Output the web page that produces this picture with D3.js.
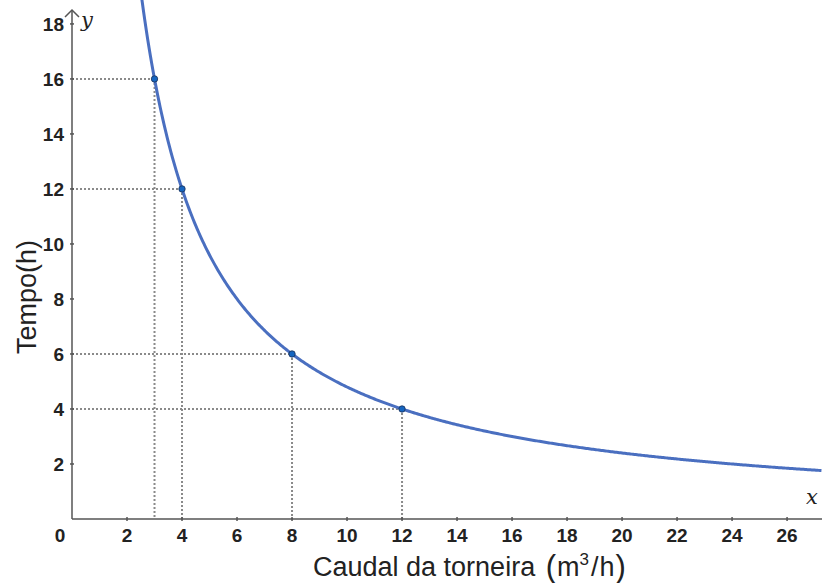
<!DOCTYPE html>
<html lang="pt">
<head>
  <meta charset="utf-8">
  <title>Tempo vs Caudal</title>
  <script src="https://d3js.org/d3.v7.min.js"></script>
  <style>
    body { margin: 0; background: #fff; }
    svg { display: block; }
    .tick-label { font-family: "Liberation Sans", Arial, sans-serif; font-weight: bold; font-size: 19px; fill: #222; }
    .title { font-family: "Liberation Sans", Arial, sans-serif; font-size: 27px; fill: #222; }
    .var { font-family: "DejaVu Serif", "Liberation Serif", serif; font-style: italic; font-size: 21px; fill: #222; }
  </style>
</head>
<body>
<svg id="chart" width="822" height="583"></svg>
<script>
  // data
  var xTicks = [2, 4, 6, 8, 10, 12, 14, 16, 18, 20, 22, 24, 26];
  var yTicks = [2, 4, 6, 8, 10, 12, 14, 16, 18];
  var pointsX = [3, 4, 8, 12];
  var pointsY = [16, 12, 6, 4];
  var k = 48; // tempo = 48 / caudal

  var svg = d3.select("#chart");
  var x = d3.scaleLinear().domain([0, 27.27]).range([72, 822]);
  var y = d3.scaleLinear().domain([0, 18.87]).range([519, 0]);

  // dotted guide lines
  var pts = pointsX.map(function (d, i) { return { x: d, y: pointsY[i] }; });
  var guides = svg.append("g")
    .attr("stroke", "#8a8a8a")
    .attr("stroke-width", 2)
    .attr("stroke-dasharray", "2,2");
  guides.selectAll(".h").data(pts).enter().append("line")
    .attr("x1", x(0)).attr("x2", function (d) { return x(d.x); })
    .attr("y1", function (d) { return y(d.y); }).attr("y2", function (d) { return y(d.y); });
  guides.selectAll(".v").data(pts).enter().append("line")
    .attr("x1", function (d) { return x(d.x); }).attr("x2", function (d) { return x(d.x); })
    .attr("y1", function (d) { return y(d.y); }).attr("y2", y(0));

  // axes
  var axis = svg.append("g").attr("stroke", "#555").attr("stroke-width", 1.5).attr("fill", "none");
  axis.append("line").attr("x1", x(0)).attr("x2", 822).attr("y1", y(0)).attr("y2", y(0));
  axis.append("line").attr("x1", x(0)).attr("x2", x(0)).attr("y1", y(0)).attr("y2", 10);
  axis.append("path").attr("d", "M" + (x(0) - 7) + ",17 L" + x(0) + ",10 L" + (x(0) + 7) + ",17");

  axis.selectAll(".xt").data(xTicks).enter().append("line")
    .attr("x1", function (d) { return x(d); }).attr("x2", function (d) { return x(d); })
    .attr("y1", y(0) - 2).attr("y2", y(0) + 2);
  axis.selectAll(".yt").data(yTicks).enter().append("line")
    .attr("x1", x(0) - 2).attr("x2", x(0) + 2)
    .attr("y1", function (d) { return y(d); }).attr("y2", function (d) { return y(d); });

  svg.selectAll(".xl").data([0].concat(xTicks)).enter().append("text")
    .attr("class", "tick-label")
    .attr("x", function (d) { return d === 0 ? x(0) - 12 : x(d); })
    .attr("y", y(0) + 23)
    .attr("text-anchor", "middle")
    .text(function (d) { return d; });
  svg.selectAll(".yl").data(yTicks).enter().append("text")
    .attr("class", "tick-label")
    .attr("x", x(0) - 8)
    .attr("y", function (d) { return y(d) + 7; })
    .attr("text-anchor", "end")
    .text(function (d) { return d; });

  // curve
  var curveX = d3.range(2.5, 27.3, 0.05);
  var line = d3.line().x(function (d) { return x(d); }).y(function (d) { return y(k / d); });
  svg.append("path").datum(curveX)
    .attr("d", line)
    .attr("fill", "none")
    .attr("stroke", "#4a6fc0")
    .attr("stroke-width", 3);

  svg.selectAll(".pt").data(pts).enter().append("circle")
    .attr("cx", function (d) { return x(d.x); })
    .attr("cy", function (d) { return y(d.y); })
    .attr("r", 3.2)
    .attr("fill", "#1565c0")
    .attr("stroke", "#1a2f55")
    .attr("stroke-width", 0.8);

  // labels
  svg.append("text").attr("class", "var").attr("x", 81).attr("y", 27).text("y");
  svg.append("text").attr("class", "var").attr("x", 806).attr("y", 504).text("x");

  svg.append("text").attr("class", "title")
    .attr("transform", "translate(36,297) rotate(-90)")
    .attr("text-anchor", "middle")
    .text("Tempo(h)");

  var xt = svg.append("text").attr("class", "title")
    .attr("x", 313).attr("y", 576);
  xt.append("tspan").text("Caudal da torneira ");
  xt.append("tspan").attr("font-size", 31).attr("dx", 3).attr("dy", 1).text("(");
  xt.append("tspan").attr("dx", 1).attr("dy", -1).text("m");
  xt.append("tspan").attr("font-size", 17).attr("dy", -11).text("3");
  xt.append("tspan").attr("dx", 2).attr("dy", 11).text("/");
  xt.append("tspan").attr("dx", 1).text("h");
  xt.append("tspan").attr("font-size", 31).attr("dx", 1).attr("dy", 1).text(")");
</script>
</body>
</html>
